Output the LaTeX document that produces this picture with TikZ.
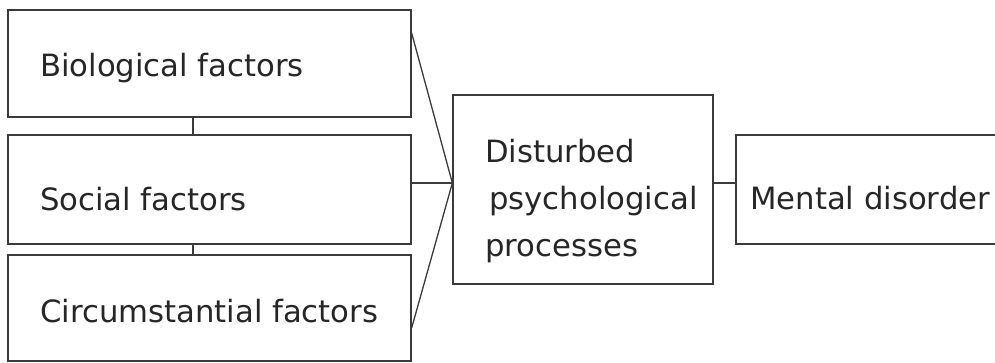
\documentclass[tikz,border=0pt]{standalone}
\usepackage{fontspec}
\setmainfont{DejaVu Sans}
\definecolor{ink}{HTML}{262626}
\definecolor{edge}{HTML}{3A3A3A}
\begin{document}
\begin{tikzpicture}[x=1pt,y=-1pt,
  box/.style={draw=edge,line width=1.3pt,rectangle,inner sep=0pt},
  lbl/.style={anchor=base west,inner sep=0pt,text=ink,font=\fontsize{30.7}{36}\selectfont},
  link/.style={draw=edge,line width=1.3pt}]
\useasboundingbox (0,0) rectangle (995,363);
\clip (0,0) rectangle (995,363);
\node[box,minimum width=403pt,minimum height=107pt] (b1) at (209.5,63.5) {};
\node[box,minimum width=403pt,minimum height=109pt] (b2) at (209.5,189.5) {};
\node[box,minimum width=403pt,minimum height=106pt] (b3) at (209.5,308) {};
\node[box,minimum width=260pt,minimum height=189pt] (m) at (583,189.5) {};
\node[box,minimum width=274pt,minimum height=109pt] (d) at (873,189.5) {};
\node[lbl] (t1) at (40,77) {Biological factors};
\node[lbl] (t2) at (40,211) {Social factors};
\node[lbl] (t3) at (40,322) {Circumstantial factors};
\node[lbl] (t4) at (485,163) {Disturbed};
\node[lbl] (t5) at (489,210) {psychological};
\node[lbl] (t6) at (485,257) {processes};
\node[lbl] (t7) at (750,210) {Mental disorder};
\coordinate (j) at (m.west |- 0,183);
\coordinate (s1) at (b1.east |- 0,33);
\coordinate (s3) at (b3.east |- 0,328);
\draw[link] ([xshift=-16.5pt]b1.south) -- ([xshift=-16.5pt]b2.north);
\draw[link] ([xshift=-16.5pt]b2.south) -- ([xshift=-16.5pt]b3.north);
\draw[link] (s1) -- (j);
\draw[link] (b2.east |- j) -- (j);
\draw[link] (s3) -- (j);
\draw[link] (m.east |- j) -- (d.west |- j);
\end{tikzpicture}
\end{document}
